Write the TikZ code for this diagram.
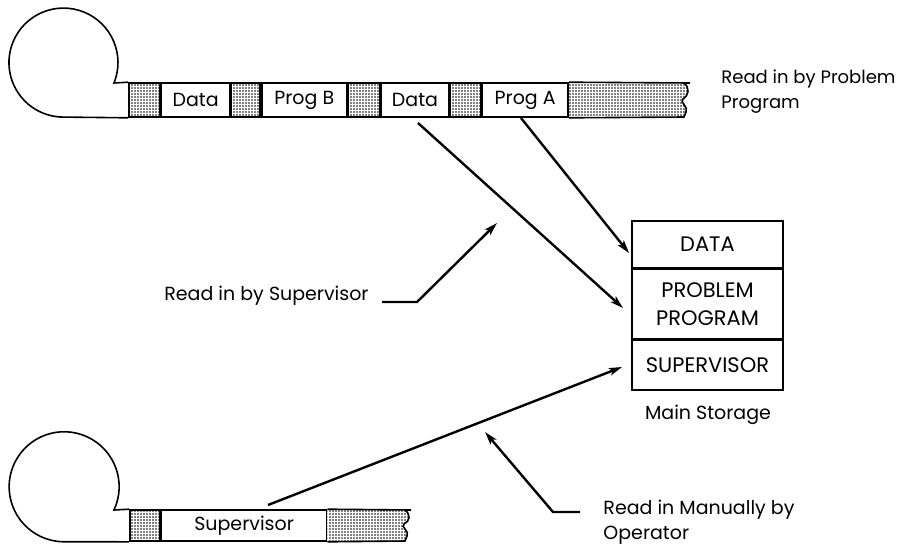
\documentclass[tikz,border=0pt]{standalone}
\usepackage{fontspec}
\setmainfont{Poppins}
\usetikzlibrary{positioning,arrows.meta,patterns.meta}

\begin{document}
\begin{tikzpicture}[x=0.5pt, y=-0.5pt, line width=0.8pt,
  font=\fontsize{9.5}{12.5}\selectfont,
  seg/.style={draw, inner sep=0pt, minimum height=17pt, font=\fontsize{9.5}{11}\selectfont},
  lowseg/.style={seg, minimum height=15.5pt},
  dots/.style={pattern={Dots[distance=1.5pt, radius=0.4pt]}},
  box/.style={draw, inner sep=0pt, minimum width=75.5pt, align=center, font=\fontsize{10.5}{14}\selectfont},
  arr/.style={line width=1.2pt, -{Stealth[length=6.5pt, width=3.8pt, inset=1.5pt]}}]
  \useasboundingbox (0,0) rectangle (901,547);

  \node[seg, dots, minimum width=15.5pt] (t0) at (144.5,100) {};
  \node[seg, minimum width=34pt, right=0pt of t0] (t1) {Data};
  \node[seg, dots, minimum width=14.5pt, right=0pt of t1] (t2) {};
  \node[seg, minimum width=42.5pt, right=0pt of t2] (t3) {Prog B};
  \node[seg, dots, minimum width=15.5pt, right=0pt of t3] (t4) {};
  \node[seg, minimum width=34pt, right=0pt of t4] (t5) {Data};
  \node[seg, dots, minimum width=15pt, right=0pt of t5] (t6) {};
  \node[seg, minimum width=43pt, right=0pt of t6] (t7) {Prog A};
  \fill[dots] (t7.north east) -- (684,83) .. controls (690,88) and (689,95) .. (683,99)
    .. controls (679,102) and (689,107) .. (686,112) -- (684,117) -- (t7.south east) -- cycle;
  \draw (t7.north east) -- (690,83);
  \draw (684,83) .. controls (690,88) and (689,95) .. (683,99)
    .. controls (679,102) and (689,107) .. (686,112) -- (684,117) -- (t7.south east);
  \draw (t0.north west) -- (114,83) arc[start angle=22, end angle=-270, radius=54.5] -- (t0.south west);

  \node[lowseg, dots, minimum width=15pt] (b0) at (145,525.5) {};
  \node[lowseg, minimum width=82.5pt, right=0pt of b0] (b1) {Supervisor};
  \fill[dots] (b1.north east) -- (405,510) .. controls (411,515) and (410,521) .. (404,524)
    .. controls (400,527) and (410,531) .. (407,536) -- (405,541) -- (b1.south east) -- cycle;
  \draw (b1.north east) -- (411,510);
  \draw (405,510) .. controls (411,515) and (410,521) .. (404,524)
    .. controls (400,527) and (410,531) .. (407,536) -- (405,541) -- (b1.south east);
  \draw (b0.north west) -- (114,510) arc[start angle=25, end angle=-270, radius=55] -- (b0.south west);

  \node[box, minimum height=23.5pt] (m0) at (707.5,244.5) {DATA};
  \node[box, minimum height=34.5pt, below=0pt of m0] (m1) {PROBLEM\\PROGRAM};
  \node[box, minimum height=25pt, below=0pt of m1] (m2) {SUPERVISOR};
  \node (ms) at (708,415) {Main Storage};

  \node[anchor=west, align=left, font=\fontsize{9}{12.5}\selectfont] (l0) at (714,92) {Read in by Problem\\Program};
  \node[anchor=base east] (l1) at (376,300) {Read in by Supervisor};
  \node[anchor=west, align=left] (l2) at (596,522) {Read in Manually by\\Operator};

  \coordinate (c0) at (418,123);
  \coordinate (e0) at (623,308);
  \coordinate (c1) at (521,118);
  \coordinate (e1) at (629,253);
  \coordinate (c2) at (268,505);
  \coordinate (e2) at (622,367);
  \coordinate (k0) at (382,302);
  \coordinate (e3) at (497,223);
  \coordinate (k1) at (580,512);
  \coordinate (e4) at (485,432);

  \draw[arr] (c0) -- (e0);
  \draw[arr] (c1) -- (e1);
  \draw[arr] (c2) -- (e2);
  \draw[arr] (k0) -- (417,302) -- (e3);
  \draw[arr] (k1) -- (553,512) -- (e4);
\end{tikzpicture}
\end{document}
